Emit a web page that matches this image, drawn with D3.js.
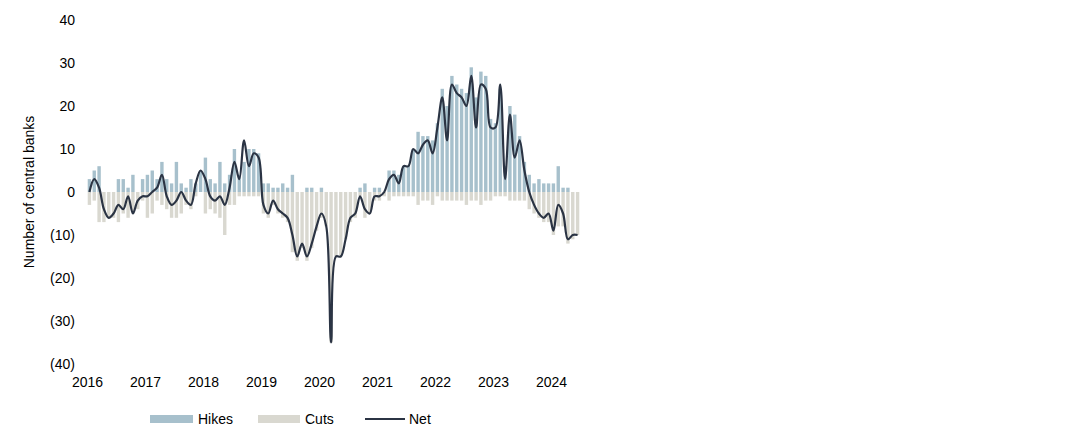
<!DOCTYPE html><html><head><meta charset="utf-8"><script src="https://cdn.jsdelivr.net/npm/d3@7"></script>
<style>body{margin:0;background:#fff}text{font-family:"Liberation Sans",Arial,sans-serif}</style></head><body><svg id="c" width="1088" height="442"></svg>
<script>
const years=[2016,2017,2018,2019,2020,2021,2022,2023,2024];
const yTicks=[40,30,20,10,0,-10,-20,-30,-40];
const hikes=[3,5,6,0,0,0,3,3,1,4,0,3, 4,5,3,7,3,2,7,2,1,3,2,5, 8,3,2,7,2,4,10,4,7,10,10,9, 2,2,1,1,2,1,4,0,0,1,1,0, 1,0,0,0,0,0,0,0,1,2,0,1, 1,0,5,5,4,6,6,10,14,13,13,12, 16,24,20,27,25,24,23,29,22,28,27,17, 16,24,6,20,18,13,7,4,2,3,2,2, 2,6,1,1,0,0];
const cuts=[-3,-2,-7,-7,-6,-6,-7,-5,-6,-5,-4,-2, -6,-5,-2,-3,-4,-6,-6,-5,-3,-4,-1,0, -5,-4,-5,-6,-10,-3,-3,-1,-1,-1,-1,-1, -5,-6,-3,-5,-6,-7,-14,-16,-13,-16,-13,-9, -6,-8,-35,-15,-15,-11,-7,-6,-1,-6,-5,-2, -2,-1,-2,-1,-1,-1,-1,-1,-3,-2,-2,-3, -1,-2,-2,-2,-2,-2,-3,-2,-2,-3,-2,-2, -1,-1,-1,-2,-2,-2,-2,-4,-5,-6,-7,-7, -10,-8,-8,-12,-11,-10];
const net=[0,3,1,-4,-6,-5,-3,-4,-1,-5,-2,-1, -1,0,1,4,-1,-3,-2,0,-2,-3,2,5, 3,-1,-2,-1,-3,1,7,3,12,6,9,8, -3,-5,-2,-4,-5,-6,-10,-15,-12,-15,-12,-8, -5,-8,-35,-15,-15,-11,-6,-5,-1,-4,-5,-1, -1,0,3,4,2,6,6,10,9,11,12,9, 15,22,12,25,23,22,20,27,15,25,24,15, 15,25,3,18,8,12,5,0,-3,-5,-6,-5, -9,-3,-5,-11,-10,-10];
const svg=d3.select("#c");
const x=d3.scaleLinear().domain([0,96]).range([87,551]);
const y=d3.scaleLinear().domain([-40,40]).range([364,20]);
const bw=3.4;
svg.append("g").selectAll("rect").data(hikes).join("rect").attr("x",(d,i)=>x(i+0.5)-bw/2).attr("width",bw)
 .attr("y",d=>y(Math.max(d,0))).attr("height",d=>Math.abs(y(d)-y(0))).attr("fill","#a7c0cc");
svg.append("g").selectAll("rect").data(cuts).join("rect").attr("x",(d,i)=>x(i+0.5)-bw/2).attr("width",bw)
 .attr("y",y(0)).attr("height",d=>Math.abs(y(d)-y(0))).attr("fill","#d9d8d0");
svg.append("path").datum(net).attr("fill","none").attr("stroke","#2b3444").attr("stroke-width",2.2)
 .attr("d",d3.line().x((d,i)=>x(i+0.5)).y(d=>y(d)).curve(d3.curveCatmullRom.alpha(0.5)));
const ya=d3.axisLeft(y).tickValues(yTicks).tickSize(0).tickFormat(d=>d<0?`(${-d})`:d);
const gy=svg.append("g").attr("transform","translate(78,0)").call(ya);
gy.select(".domain").remove();gy.selectAll("text").attr("font-size",14).attr("fill","#000").style("font-family","Liberation Sans");
const xa=d3.axisBottom(x).tickValues(years.map((v,i)=>i*12)).tickSize(0).tickFormat((d,i)=>years[i]);
const gx=svg.append("g").attr("transform","translate(0,374)").call(xa);
gx.select(".domain").remove();gx.selectAll("text").attr("font-size",14).attr("fill","#000").style("font-family","Liberation Sans");
svg.append("text").attr("transform","translate(34,192) rotate(-90)").attr("text-anchor","middle").attr("font-size",14).text("Number of central banks");
const lg=svg.append("g");
lg.append("rect").attr("x",150).attr("y",415).attr("width",43).attr("height",8).attr("fill","#a7c0cc");
lg.append("text").attr("x",198).attr("y",424).attr("font-size",14).text("Hikes");
lg.append("rect").attr("x",258).attr("y",415).attr("width",42).attr("height",8).attr("fill","#d9d8d0");
lg.append("text").attr("x",305).attr("y",424).attr("font-size",14).text("Cuts");
lg.append("line").attr("x1",365).attr("x2",405).attr("y1",419).attr("y2",419).attr("stroke","#2b3444").attr("stroke-width",2.2);
lg.append("text").attr("x",409).attr("y",424).attr("font-size",14).text("Net");
</script></body></html>
